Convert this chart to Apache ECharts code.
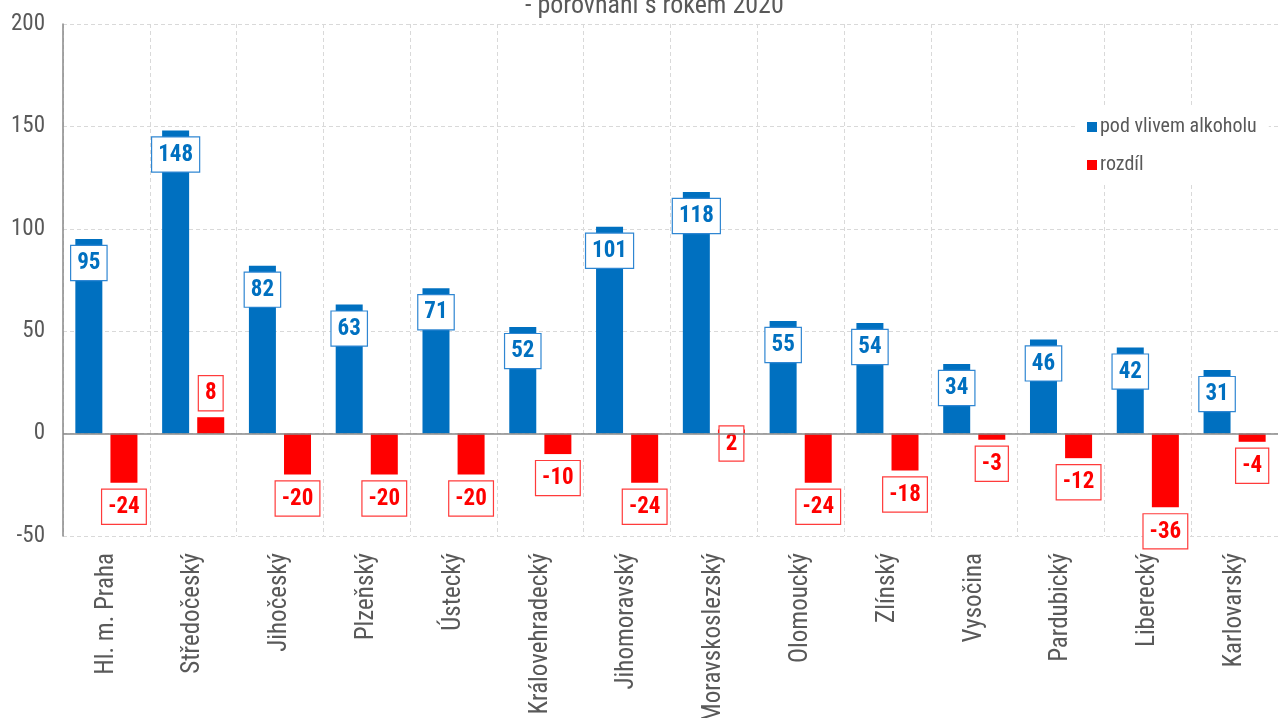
<!DOCTYPE html>
<html>
<head>
<meta charset="utf-8">
<script src="https://cdn.jsdelivr.net/npm/echarts@6/dist/echarts.min.js"></script>
<style>
  html, body { margin: 0; padding: 0; background: #fff; }
  #main { width: 1278px; height: 718px; }
</style>
</head>
<body>
<div id="main"></div>
<script>
// data
var kraje = ["Hl. m. Praha", "Středočeský", "Jihočeský", "Plzeňský", "Ústecký",
  "Královehradecký", "Jihomoravský", "Moravskoslezský", "Olomoucký", "Zlínský",
  "Vysočina", "Pardubický", "Liberecký", "Karlovarský"];
var alkohol = [95, 148, 82, 63, 71, 52, 101, 118, 55, 54, 34, 46, 42, 31];
var rozdil = [-24, 8, -20, -20, -20, -10, -24, 2, -24, -18, -3, -12, -36, -4];
var yTicks = { min: -50, max: 200, interval: 50 };

var FONT = "'Liberation Sans Narrow', 'Roboto Condensed', 'Arial Narrow', 'Liberation Sans', sans-serif";
var BLUE = "#0070C0";
var RED = "#FF0000";
var GRAY = "#595959";

var chartDom = document.getElementById("main");
var myChart = echarts.init(chartDom);

// red labels sit outside the bar end (small positive values drop below)
var rozdilData = rozdil.map(function (v) {
  var pos = v < 0 ? "bottom" : (v < 5 ? "insideTop" : "top");
  return {
    value: v,
    label: { position: pos, distance: pos === "insideTop" ? -3 : 7 },
  };
});

var option = {
  animation: false,
  textStyle: { fontFamily: FONT },
  title: {
    text: "- porovnání s rokem 2020",
    left: 520,
    top: -12,
    textStyle: { fontFamily: FONT, fontSize: 26, fontWeight: "normal", color: GRAY },
  },
  grid: {
    left: 63,
    right: 0,
    top: 24,
    bottom: 182,
    containLabel: false,
    outerBoundsMode: "none",
  },
  legend: {
    orient: "vertical",
    left: 1075,
    top: 107,
    padding: [10, 12],
    backgroundColor: "#fff",
    itemWidth: 10,
    itemHeight: 10,
    itemGap: 18,
    textStyle: { fontFamily: FONT, fontSize: 20, color: GRAY, padding: [0, 0, 0, -2] },
    data: [
      { name: "pod vlivem alkoholu", icon: "rect" },
      { name: "rozdíl", icon: "rect" },
    ],
  },
  xAxis: {
    type: "category",
    data: kraje,
    boundaryGap: true,
    axisLine: { show: false, onZero: false },
    axisTick: { show: false },
    axisLabel: {
      rotate: 90,
      interval: 0,
      margin: 17,
      color: GRAY,
      fontSize: 25,
      fontFamily: FONT,
    },
    splitLine: {
      show: true,
      interval: 0,
      lineStyle: { color: "#d9d9d9", type: [4, 3], width: 1 },
    },
  },
  yAxis: {
    type: "value",
    min: yTicks.min,
    max: yTicks.max,
    interval: yTicks.interval,
    axisLine: { show: true, lineStyle: { color: "#898989", width: 1.5 } },
    axisTick: { show: false },
    axisLabel: { color: GRAY, fontSize: 23, margin: 18, fontFamily: FONT },
    splitLine: {
      show: true,
      lineStyle: { color: "#d9d9d9", type: [4, 3], width: 1 },
    },
  },
  series: [
    {
      name: "pod vlivem alkoholu",
      type: "bar",
      data: alkohol,
      barWidth: 27,
      barGap: "30%",
      itemStyle: { color: BLUE },
      label: {
        show: true,
        position: "insideTop",
        distance: 7,
        color: BLUE,
        fontSize: 23,
        fontWeight: "bold",
        fontFamily: FONT,
        backgroundColor: "#fff",
        borderColor: "#2f86d2",
        borderWidth: 1.2,
        padding: [6, 6, 5, 6],
      },
      markLine: {
        silent: true,
        symbol: "none",
        label: { show: false },
        lineStyle: { color: "#898989", type: "solid", width: 1.5 },
        data: [{ yAxis: 0 }],
      },
      z: 3,
    },
    {
      name: "rozdíl",
      type: "bar",
      data: rozdilData,
      barWidth: 27,
      itemStyle: { color: RED },
      label: {
        show: true,
        color: RED,
        fontSize: 23,
        fontWeight: "bold",
        fontFamily: FONT,
        backgroundColor: "#fff",
        borderColor: "#ff3b3b",
        borderWidth: 1.2,
        padding: [6, 6, 5, 6],
      },
      z: 3,
    },
  ],
};

myChart.setOption(option);
window.addEventListener("resize", function () {
  myChart.resize();
});
</script>
</body>
</html>
